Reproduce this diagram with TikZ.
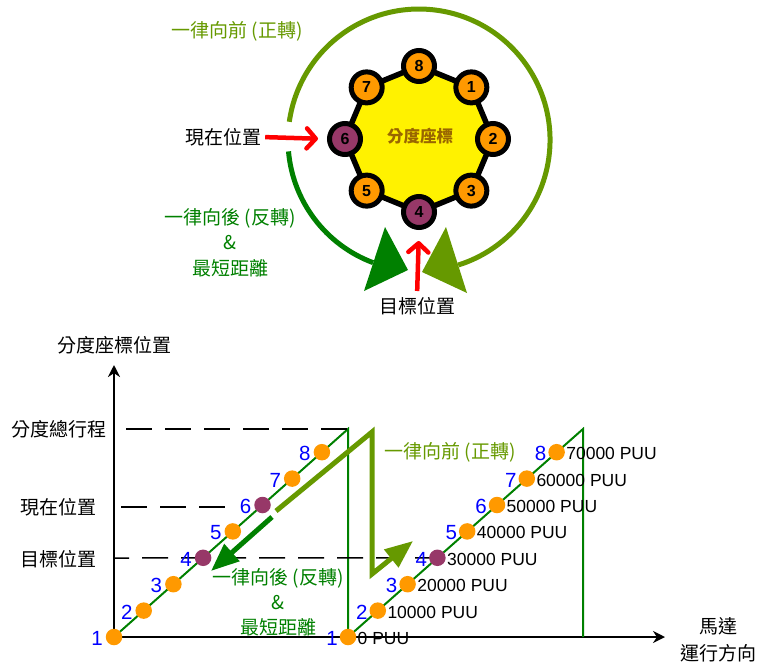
\documentclass[tikz,border=0pt]{standalone}
\usepackage{fontspec}
\setmainfont{Liberation Sans}
\newfontfamily\cjk{Noto Sans CJK TC}
\usetikzlibrary{arrows.meta}
\pgfdeclarelayer{bg}
\pgfsetlayers{bg,main}
\definecolor{dorange}{RGB}{255,153,0}
\definecolor{dpurple}{RGB}{151,56,104}
\definecolor{olivegr}{RGB}{102,153,0}
\definecolor{dgreen}{RGB}{0,128,0}
\definecolor{browntxt}{RGB}{153,102,0}
\begin{document}
\begin{tikzpicture}[x=1pt,y=-1pt,
  cjktxt/.style={font=\cjk\fontsize{19}{22}\selectfont, inner sep=0pt},
  octnode/.style={circle, draw=black, line width=5pt, minimum size=31pt, inner sep=0pt, font=\bfseries\fontsize{16}{18}\selectfont},
  dot/.style={circle, fill=dorange, minimum size=16.5pt, inner sep=0pt},
  pdot/.style={dot, fill=dpurple},
  bnum/.style={text=blue, font=\fontsize{20.5}{22}\selectfont, inner sep=0pt},
  puu/.style={font=\fontsize{17.5}{20}\selectfont, inner sep=0pt, anchor=west},
  dashline/.style={line width=1.5pt, dash pattern=on 26pt off 13pt},
  sawline/.style={dgreen, line width=2pt},
  axisarrow/.style={line width=2pt, -{Stealth[length=12pt,width=12pt]}},
  redarrow/.style={red, line width=4.5pt, -{Straight Barb[length=9pt,width=20pt,round]}},
  bigarc/.style={line width=5pt},
  thickarrow/.style={line width=5pt, -{Triangle[length=28pt,width=22pt]}}
]
\useasboundingbox (0,0) rectangle (759,664);

% ---------------- top diagram ----------------
\foreach \n/\a in {8/90,1/45,2/0,3/-45,4/-90,5/-135,6/180,7/135}
  \coordinate (p\n) at ({419+74*cos(\a)},{139-73*sin(\a)});
\filldraw[fill=yellow, draw=black, line width=5.5pt, line join=round]
  (p8)--(p1)--(p2)--(p3)--(p4)--(p5)--(p6)--(p7)--cycle;
\foreach \n/\c in {8/dorange,1/dorange,2/dorange,3/dorange,4/dpurple,5/dorange,6/dpurple,7/dorange}
  \node[octnode, fill=\c] (n\n) at (p\n) {\n};
\node[cjktxt, font=\cjk\bfseries\fontsize{16.5}{20}\selectfont, text=browntxt] (ctr) at (420,136) {分度座標};

% outer arcs
\draw[bigarc, olivegr] (289.3,121.8) arc[start angle=-172, end angle=72.6, radius=131];
\draw[bigarc, dgreen] (288.5,151.4) arc[start angle=-185, end angle=-249.5, radius=131];
\fill[dgreen] (385,227) -- (364,291) -- (408,270) -- cycle;
\fill[olivegr] (446,227) -- (467,293) -- (422,272) -- cycle;

\node[cjktxt, text=olivegr] (fwdtop) at (237,31) {一律向前 (正轉)};
\node[cjktxt] (curtop) at (223,137) {現在位置};
\node[cjktxt, text=dgreen] (bwdtop) at (230,218) {一律向後 (反轉)};
\node[cjktxt, text=dgreen] (amptop) at (230,243) {\&};
\node[cjktxt, text=dgreen] (shorttop) at (230,268) {最短距離};
\node[cjktxt] (tgttop) at (417,306) {目標位置};

\draw[redarrow, shorten <=4pt, shorten >=9pt] (curtop.east) -- (n6.west);
\draw[redarrow, shorten <=6pt, shorten >=11pt] (tgttop.north) -- (n4.south);

% ---------------- bottom chart ----------------
\coordinate (O) at (114,637);
\coordinate (Ytop) at (114,365);
\coordinate (Xend) at (665,637);
\coordinate (t1) at (348,429);
\coordinate (t2) at (583,429);
\coordinate (e2) at (583,637);
\coordinate (d1s) at (126,429);
\coordinate (d2s) at (121,507);
\coordinate (d2e) at (226,507);
\coordinate (d3s) at (114,558);

\foreach \k/\s in {1/dot,2/dot,3/dot,4/pdot,5/dot,6/pdot,7/dot,8/dot}{
  \node[\s] (a\k) at ({114+29.7*(\k-1)},{637-26.4*(\k-1)}) {};
  \node[bnum] (la\k) at ([xshift=-17pt,yshift=-1.5pt]a\k.center) {\k};
}
\foreach \k/\s/\v in {1/dot/0,2/dot/10000,3/dot/20000,4/pdot/30000,5/dot/40000,6/dot/50000,7/dot/60000,8/dot/70000}{
  \node[\s] (b\k) at ({348+29.8*(\k-1)},{637-26.4*(\k-1)}) {};
  \node[bnum] (lb\k) at ([xshift=-16pt,yshift=-1.5pt]b\k.center) {\k};
  \node[puu] (pb\k) at ([xshift=9.5pt,yshift=-1.5pt]b\k.center) {\v\ PUU};
}

\begin{pgfonlayer}{bg}
  \draw[axisarrow] (O) -- (Ytop);
  \draw[axisarrow] (O) -- (Xend);
  \draw[sawline] (a1.center) -- (t1) -- (b1.center) -- (t2) -- (e2);
  \draw[dashline] (d1s) -- (t1);
  \draw[dashline] (d2s) -- (d2e);
  \draw[dashline, dash phase=11pt] (d3s) -- (b4.center);
\end{pgfonlayer}

\node[cjktxt] (ylab) at (114,345) {分度座標位置};
\node[cjktxt] (ltot) at (59,429) {分度總行程};
\node[cjktxt] (lcur) at (58,507) {現在位置};
\node[cjktxt] (ltgt) at (58,559) {目標位置};
\node[cjktxt] (xlab1) at (718,626) {馬達};
\node[cjktxt] (xlab2) at (718,653) {運行方向};

% thick arrows
\coordinate (fw0) at (276,511);
\coordinate (fw1) at (372,432);
\coordinate (fw2) at (372,574);
\coordinate (fw3) at (413,541);
\draw[thickarrow, olivegr, line join=miter] (fw0) -- (fw1) -- (fw2) -- (fw3);
\coordinate (bw0) at (272,517);
\coordinate (bw1) at (211,571);
\draw[thickarrow, dgreen] (bw0) -- (bw1);

\node[cjktxt, text=olivegr] (fwdlab) at (450,452) {一律向前 (正轉)};
\node[cjktxt, text=dgreen] (bwdlab) at (278,578) {一律向後 (反轉)};
\node[cjktxt, text=dgreen] (amplab) at (278,603) {\&};
\node[cjktxt, text=dgreen] (shortlab) at (278,627) {最短距離};
\end{tikzpicture}
\end{document}
